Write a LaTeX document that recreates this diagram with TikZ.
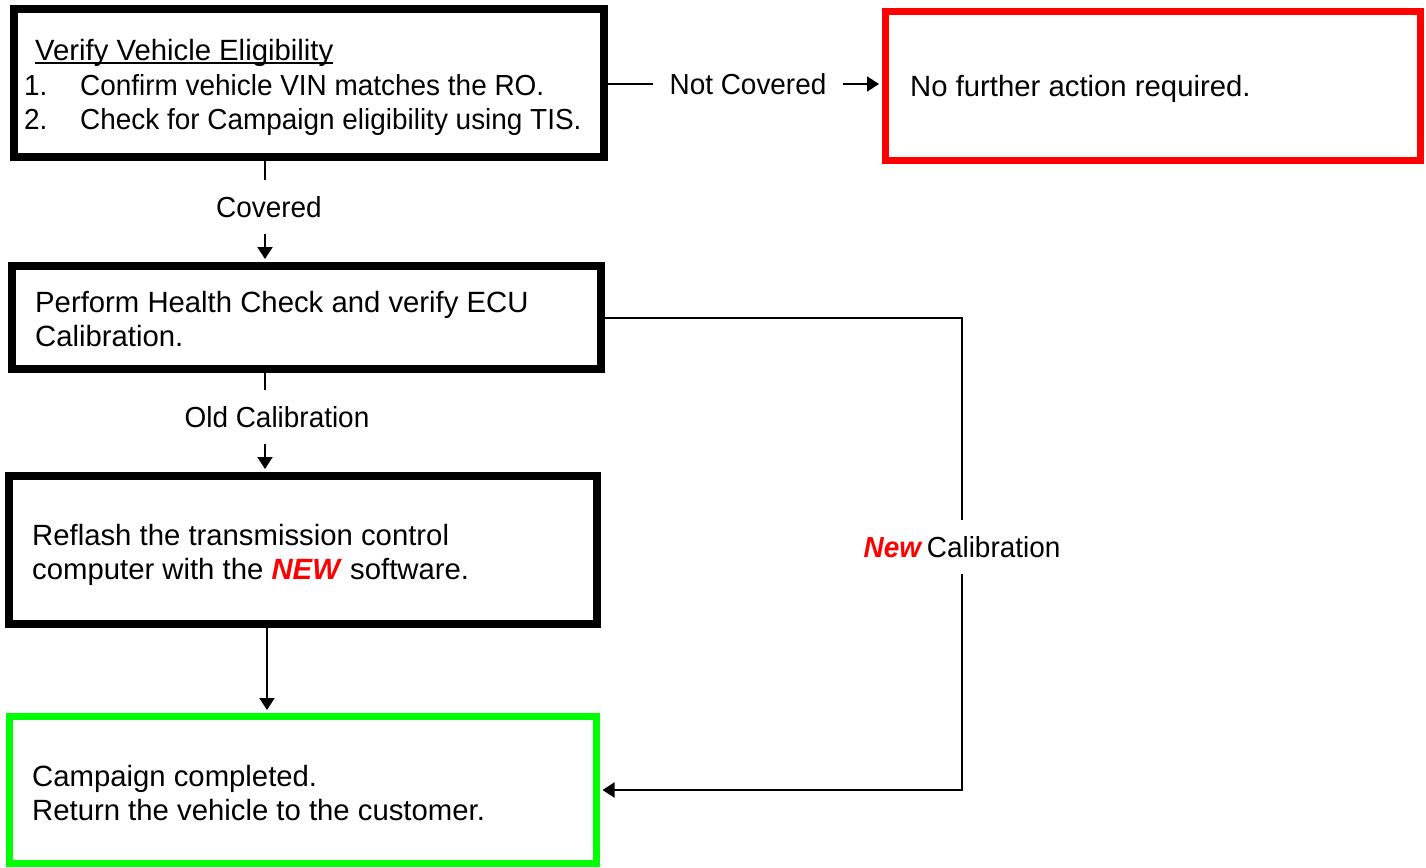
\documentclass[tikz,border=0pt]{standalone}
\usepackage{fontspec}
\setmainfont{Liberation Sans}
\newfontfamily\narrowfont[FakeStretch=0.963]{Liberation Sans}
\usetikzlibrary{arrows.meta}
\definecolor{boxred}{RGB}{255,0,0}
\definecolor{boxgreen}{RGB}{0,255,0}
\begin{document}
\begin{tikzpicture}[x=1pt,y=-1pt,
  every node/.style={font=\fontsize{29.3}{34}\selectfont},
  box/.style={draw=black, line width=8pt, rectangle, inner sep=0pt, fill=white},
  txt/.style={anchor=base west, inner sep=0pt},
  ntxt/.style={txt, font=\narrowfont\fontsize{29}{34}\selectfont},
  lbl/.style={inner xsep=16pt, inner ysep=0pt, minimum height=54pt, font=\narrowfont\fontsize{29}{34}\selectfont},
  conn/.style={line width=2pt},
  tip/.style={-{Triangle[length=12pt,width=15pt]}}
]
\useasboundingbox[fill=white] (0,0) rectangle (1426,867);
% boxes
\node[box, minimum width=590pt, minimum height=148pt] (b1) at (309,83) {};
\node[box, draw=boxred, line width=7pt, minimum width=535pt, minimum height=149pt] (red) at (1153,86) {};
\node[box, minimum width=589pt, minimum height=103pt] (b2) at (306.5,317.5) {};
\node[box, minimum width=588pt, minimum height=148pt] (b3) at (303,550) {};
\node[box, draw=boxgreen, line width=7pt, minimum width=587pt, minimum height=147pt] (green) at (302.5,790) {};
% box texts
\node[txt] (t1h) at (35,60) {Verify Vehicle Eligibility};
\draw[line width=2pt] ([yshift=-3.5pt]t1h.base west) -- ([yshift=-3.5pt]t1h.base east);
\node[ntxt] (n1) at (24,95) {1.};
\node[ntxt] (t11) at (80,95) {Confirm vehicle VIN matches the RO.};
\node[ntxt] (n2) at (24,129) {2.};
\node[ntxt] (t12) at (80,129) {Check for Campaign eligibility using TIS.};
\node[txt] (tr) at (910,96) {No further action required.};
\node[txt] (t2a) at (35,312) {Perform Health Check and verify ECU};
\node[txt] (t2b) at (35,346) {Calibration.};
\node[txt] (t3a) at (32,545) {Reflash the transmission control};
\node[txt] (t3b) at (32,579) {computer with the \textcolor{boxred}{\textbf{\textit{NEW}}} software.};
\node[txt] (tg1) at (32,786) {Campaign completed.};
\node[txt] (tg2) at (32,820) {Return the vehicle to the customer.};
% labels
\node[lbl] (cov) at (269,207) {Covered};
\node[lbl] (old) at (277,417) {Old Calibration};
\node[lbl] (nc) at (748,84) {Not Covered};
\node[lbl] (newc) at (962,547) {\textcolor{boxred}{\textbf{\textit{New}}}\hspace{0.15em}Calibration};
\coordinate (cx1) at (265,0);
\coordinate (cx3) at (267,0);
% connectors
\draw[conn] (b1.south -| cx1) -- (cov.north -| cx1);
\draw[conn,tip,shorten >=3pt] (cov.south -| cx1) -- (b2.north -| cx1);
\draw[conn] (b2.south -| cx1) -- (old.north -| cx1);
\draw[conn,tip,shorten >=3pt] (old.south -| cx1) -- (b3.north -| cx1);
\draw[conn,tip,shorten >=3pt] (b3.south -| cx3) -- (green.north -| cx3);
\draw[conn] (b1.east |- nc) -- (nc.west);
\draw[conn,tip,shorten >=3pt] (nc.east) -- (nc.east -| red.west);
\draw[conn] (b2.east) -| (newc.north);
\draw[conn,tip,shorten >=3pt] (newc.south) |- (green.east);
\end{tikzpicture}
\end{document}
